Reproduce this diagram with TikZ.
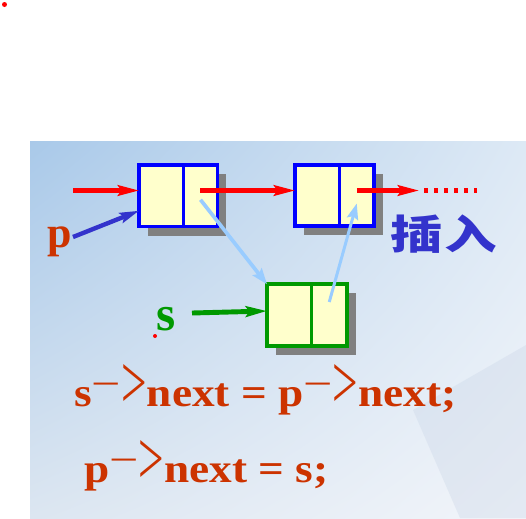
\documentclass[tikz,border=0pt]{standalone}
\usepackage{fontspec}
\setmainfont{Liberation Serif}
\newfontfamily\widefont{Liberation Serif}[FakeStretch=1.12]
\newfontfamily\cjk{Noto Sans CJK SC}[FakeStretch=1.3]
\usetikzlibrary{arrows.meta,positioning,shadows,shadings}

\definecolor{fondA}{HTML}{A9C9E9}
\definecolor{fondB}{HTML}{DDE9F5}
\definecolor{fondC}{HTML}{DCE6F1}
\definecolor{fondD}{HTML}{F2F5FA}
\definecolor{cellfill}{HTML}{FFFFCC}
\definecolor{shadowgray}{HTML}{808080}
\definecolor{sgreen}{HTML}{009900}
\definecolor{lightblue}{HTML}{99CCFF}
\definecolor{pblue}{HTML}{3333CC}
\definecolor{codecol}{HTML}{CC3300}
\definecolor{pagecol}{HTML}{C9D5E6}

\newcommand\ptr{{\mdseries\raisebox{0.2em}{\scalebox{1.15}[1]{−}}\raisebox{-0.06em}{\scalebox{1}[1.9]{>}}}}

\begin{document}
\begin{tikzpicture}[x=0.02cm,y=-0.02cm,
  cell/.style={draw=blue,line width=2.2pt,fill=cellfill,minimum height=1.23cm,
    inner sep=0pt,outer sep=0pt,
    drop shadow={shadow xshift=0.18cm,shadow yshift=-0.18cm,fill=shadowgray,opacity=1}},
  redarrow/.style={red,line width=2.3pt,-{Stealth[length=12pt,width=6pt,inset=2pt]}},
  reddots/.style={red,line width=2.3pt,dash pattern=on 2.3pt off 3.4pt},
  linkarrow/.style={lightblue,line width=2.1pt,-{Stealth[length=9pt,width=6.5pt,inset=1.5pt]}},
  code/.style={text=codecol,font=\widefont\fontsize{23}{23}\selectfont\bfseries,anchor=base west,inner sep=0pt}]
\useasboundingbox (0,0) rectangle (526,518);

%fond
\shade[upper left=fondA,upper right=fondB,lower left=fondC,lower right=fondD] (30,141) rectangle (526,518);
\fill[pagecol,opacity=.35] (413,410) -- (526,345) -- (526,518) -- (460,518) -- cycle; %feuille en fond
\fill[red] (4.5,4.5) circle (2.5);

%les noeuds
\node[cell,minimum width=0.89cm] (p1) at (161.25,195.75) {};
\node[cell,minimum width=0.68cm,right=0pt of p1] (p2) {};
\node[cell,minimum width=0.89cm] (q1) at (317.25,195.5) {};
\node[cell,minimum width=0.69cm,right=0pt of q1] (q2) {};
\node[cell,draw=sgreen,minimum width=0.89cm] (s1) at (289.25,315) {};
\node[cell,draw=sgreen,minimum width=0.71cm,right=0pt of s1] (s2) {};

%textes
\node[text=codecol,font=\fontsize{25}{25}\selectfont\bfseries,anchor=base west,inner sep=0pt] (plab) at (47,247) {p};
\node[text=sgreen,font=\fontsize{28}{28}\selectfont\bfseries,anchor=base west,inner sep=0pt] (slab) at (156,330) {s};
\fill[red] (155,336) circle (2);
\node[text=pblue,font=\cjk\fontsize{23}{23}\selectfont\bfseries,inner sep=0pt] (ins) at (444,234) {插\hspace{1pt}入};
\node[code] (l1) at (74,406) {s\ptr next = p\ptr next;};
\node[code] (l2) at (84,482) {p\ptr next = s;};

%fleches
\coordinate (pin) at (73,190.5);
\coordinate (fin) at (419,190.5);
\coordinate (fin2) at (477,190.5);
\coordinate (pfrom) at (73,237);
\coordinate (sfrom) at (192,313);
\draw[redarrow] (pin) -- (pin -| p1.west);
\draw[redarrow] (p2.center |- pin) -- (q1.west |- pin);
\draw[redarrow] (q2.center |- pin) -- (fin);
\draw[reddots] ([xshift=3pt]fin) -- (fin2);
\draw[pblue,line width=2.5pt,-{Stealth[length=11pt,width=6pt,inset=2pt]}] (pfrom) -- ([yshift=-0.3cm]p1.west);
\draw[sgreen,line width=2.8pt,-{Stealth[length=12pt,width=6pt,inset=2pt]}] (sfrom) -- ([yshift=0.08cm]s1.west);
\draw[linkarrow] ([yshift=-0.08cm]p2.center) -- (s1.north west);
\draw[linkarrow,line width=1.7pt] ([yshift=0.26cm]s2.center) -- ([yshift=-0.16cm]q2.center);

\end{tikzpicture}
\end{document}
